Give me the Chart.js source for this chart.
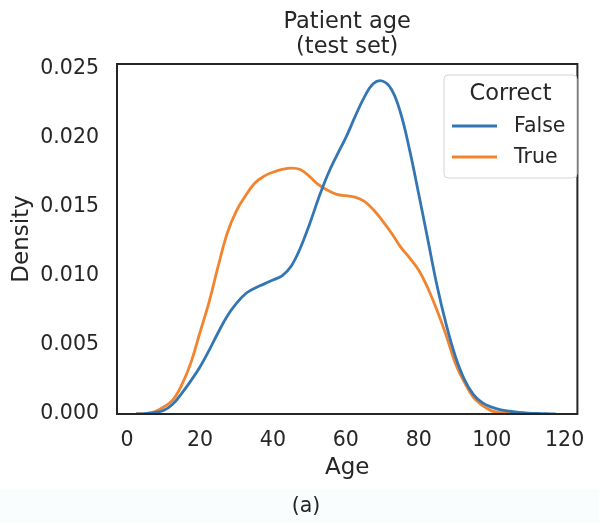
<!DOCTYPE html>
<html>
<head>
<meta charset="utf-8">
<script src="https://cdn.jsdelivr.net/npm/chart.js@4.4.1/dist/chart.umd.min.js"></script>
<style>
  html, body { margin: 0; padding: 0; background: #ffffff; }
  #wrap { width: 599px; height: 523px; position: relative; }
</style>
</head>
<body>
<div id="wrap"><canvas id="kdeChart" width="599" height="523"></canvas></div>
<script>
// KDE curves (age -> density)
const falseAge = [2.5, 5, 7.5, 10, 12.5, 15, 17.5, 20, 22.5, 25, 27.5, 30, 32.5, 35, 37.5, 40, 42.5, 45, 47.5, 50, 52.5, 55, 57.5, 60, 62.5, 65, 67.5, 70, 72.5, 75, 77.5, 80, 82.5, 85, 87.5, 90, 92.5, 95, 97.5, 100, 102.5, 105, 107.5, 110, 112.5, 115, 117.5];
const falseDensity = [0, 0.00003, 0.0001, 0.00025, 0.0007, 0.0015, 0.0024, 0.0034, 0.0046, 0.0059, 0.0071, 0.0080, 0.0087, 0.0091, 0.0094, 0.0097, 0.0100, 0.0107, 0.0120, 0.0137, 0.0156, 0.0173, 0.0187, 0.0200, 0.0215, 0.0229, 0.0239, 0.0241, 0.0235, 0.0218, 0.0191, 0.0159, 0.0126, 0.0093, 0.0065, 0.0042, 0.0025, 0.0014, 0.0008, 0.0005, 0.0003, 0.0002, 0.00012, 0.00007, 0.00004, 0.00002, 0];

const trueAge = [2.5, 5, 7.5, 10, 12.5, 15, 17.5, 20, 22.5, 25, 27.5, 30, 32.5, 35, 37.5, 40, 42.5, 45, 47.5, 50, 52.5, 55, 57.5, 60, 62.5, 65, 67.5, 70, 72.5, 75, 77.5, 80, 82.5, 85, 87.5, 90, 92.5, 95, 97.5, 100, 102.5, 105, 107.5];
const trueDensity = [0, 0.00003, 0.00015, 0.0005, 0.0010, 0.0021, 0.0037, 0.0059, 0.0081, 0.0107, 0.0131, 0.0147, 0.0158, 0.0167, 0.0172, 0.0175, 0.0177, 0.0178, 0.0177, 0.0172, 0.0166, 0.0162, 0.0159, 0.0158, 0.0157, 0.0154, 0.0148, 0.0140, 0.0131, 0.0121, 0.0113, 0.0104, 0.0091, 0.0075, 0.0057, 0.0037, 0.0023, 0.0012, 0.0006, 0.00023, 0.0001, 0.00004, 0];

const seriesNames = ['False', 'True'];
const legendTitle = 'Correct';
const chartTitle = ['Patient age', '(test set)'];
const caption = '(a)';

const FONT = "'DejaVu Sans', sans-serif";
const TEXT = '#262626';

const toPoints = (xs, ys) => xs.map((x, i) => ({ x: x, y: ys[i] }));

// frame, title, legend and caption drawn on top of the plot
const decorations = {
  id: 'decorations',
  beforeDraw(chart) {
    const ctx = chart.ctx;
    ctx.save();
    ctx.fillStyle = '#fafdfd';
    ctx.fillRect(0, 489, chart.width, chart.height - 489);
    ctx.restore();
  },
  afterDatasetsDraw(chart) {
    const { ctx, chartArea: a } = chart;
    ctx.save();

    // axes frame
    ctx.strokeStyle = TEXT;
    ctx.lineWidth = 2;
    ctx.strokeRect(a.left, a.top, a.right - a.left, a.bottom - a.top);

    // title
    const cx = (a.left + a.right) / 2;
    ctx.fillStyle = TEXT;
    ctx.font = '22.5px ' + FONT;
    ctx.textAlign = 'center';
    ctx.textBaseline = 'middle';
    ctx.fillText(chartTitle[0], cx, 22);
    ctx.fillText(chartTitle[1], cx, 47);

    // legend
    const bx = 444, by = 75, bw = 133, bh = 103;
    ctx.beginPath();
    ctx.roundRect(bx, by, bw, bh, 4);
    ctx.fillStyle = 'rgba(255,255,255,0.85)';
    ctx.fill();
    ctx.strokeStyle = '#d4d4d4';
    ctx.lineWidth = 1;
    ctx.stroke();

    ctx.fillStyle = TEXT;
    ctx.font = '22.5px ' + FONT;
    ctx.fillText(legendTitle, bx + bw / 2, 94);

    ctx.font = '20.5px ' + FONT;
    ctx.textAlign = 'left';
    chart.data.datasets.forEach((ds, i) => {
      const y = 126 + i * 31;
      ctx.strokeStyle = ds.borderColor;
      ctx.lineWidth = 3;
      ctx.beginPath();
      ctx.moveTo(452, y);
      ctx.lineTo(497, y);
      ctx.stroke();
      ctx.fillStyle = TEXT;
      ctx.fillText(ds.label, 514, y + 1);
    });

    // caption
    ctx.font = '20.5px ' + FONT;
    ctx.textAlign = 'center';
    ctx.fillText(caption, 306, 507);

    ctx.restore();
  }
};

new Chart(document.getElementById('kdeChart'), {
  type: 'line',
  data: {
    datasets: [
      {
        label: seriesNames[0],
        data: toPoints(falseAge, falseDensity),
        borderColor: '#3476b3',
        borderWidth: 2.8,
        pointRadius: 0,
        fill: false,
        tension: 0.4,
      },
      {
        label: seriesNames[1],
        data: toPoints(trueAge, trueDensity),
        borderColor: '#f2832f',
        borderWidth: 2.8,
        pointRadius: 0,
        fill: false,
        tension: 0.4,
      },
    ],
  },
  options: {
    responsive: false,
    animation: false,
    devicePixelRatio: 1,
    layout: { padding: { left: 0, top: 64, right: 11, bottom: 41 } },
    plugins: {
      legend: { display: false },
      title: { display: false },
      tooltip: { enabled: false },
    },
    scales: {
      x: {
        type: 'linear',
        min: -2.75,
        max: 123.5,
        grid: { display: false, drawTicks: false },
        border: { display: false },
        ticks: {
          stepSize: 20,
          includeBounds: false,
          padding: 14.5,
          color: TEXT,
          font: { family: FONT, size: 20.5 },
          maxRotation: 0,
          callback: (value) => value.toString(),
        },
        title: {
          display: true,
          text: 'Age',
          color: TEXT,
          font: { family: FONT, size: 23 },
          padding: { top: 0, bottom: 0 },
        },
        afterFit: (scale) => { scale.height = 68; },
      },
      y: {
        type: 'linear',
        min: 0,
        max: 0.02533,
        grid: { display: false, drawTicks: false },
        border: { display: false },
        ticks: {
          stepSize: 0.005,
          includeBounds: false,
          padding: 18,
          color: TEXT,
          font: { family: FONT, size: 20.5 },
          callback: (value) => value.toFixed(3),
        },
        title: {
          display: true,
          text: 'Density',
          color: TEXT,
          font: { family: FONT, size: 23 },
          padding: { top: 8, bottom: 0 },
        },
        afterFit: (scale) => { scale.width = 117; },
      },
    },
  },
  plugins: [decorations],
});
</script>
</body>
</html>
